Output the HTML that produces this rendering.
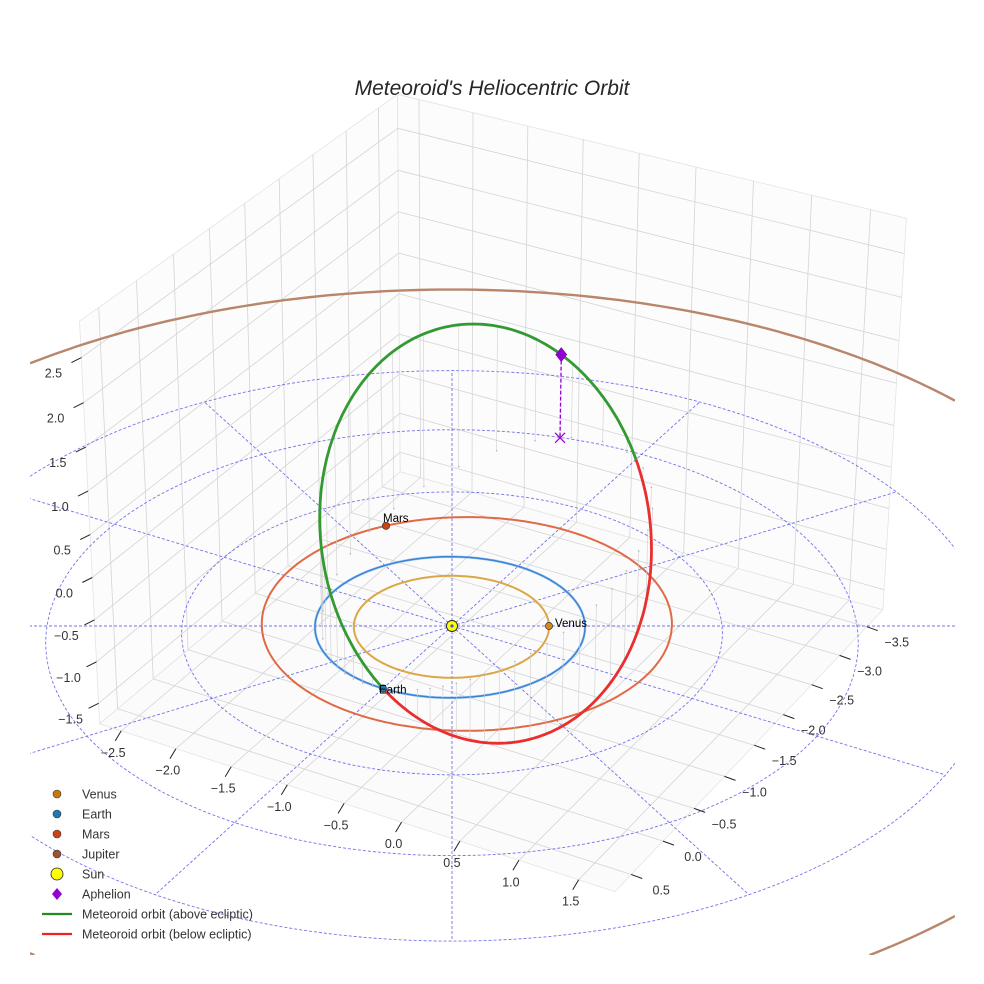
<!DOCTYPE html>
<html><head><meta charset="utf-8"><title>Meteoroid's Heliocentric Orbit</title>
<style>
html,body{margin:0;padding:0;background:#fff;overflow:hidden;}
svg{display:block;font-family:"Liberation Sans",sans-serif;overflow:hidden;}
</style></head>
<body>
<svg id="chart" width="984" height="984" viewBox="0 0 984 984">
<defs><clipPath id="plotclip"><rect x="30" y="0" width="925" height="955"/></clipPath></defs>
<text x="492" y="95" text-anchor="middle" font-size="21" font-style="italic" fill="#262626">Meteoroid's Heliocentric Orbit</text>
<g id="panes"></g>
<g id="plot" clip-path="url(#plotclip)"></g>
<g id="axes"></g>
<g id="legend"></g>
</svg>
<script>
// ---- data ----
const xTicks = [-2.5, -2.0, -1.5, -1.0, -0.5, 0.0, 0.5, 1.0, 1.5];
const yTicks = [-3.5, -3.0, -2.5, -2.0, -1.5, -1.0, -0.5, 0.0, 0.5];
const zTicks = [-1.5, -1.0, -0.5, 0.0, 0.5, 1.0, 1.5, 2.0, 2.5];
const xRange = [-2.7, 1.8];
const yRange = [-3.8, 0.75];
const zRange = [-1.75, 2.9];
const planetNames = ["Venus", "Earth", "Mars", "Jupiter"];
const planetA = [0.723, 1.0, 1.524, 5.2];
const planetE = [0.007, 0.017, 0.093, 0.048];
const planetPeri = [0, 0, 111, 60];
const planetAngle = [-30, 90, -139, null];
const refRings = [2, 3, 4];
const refSpokes = [0, 30, 60, 90, 120, 150, 180, 210, 240, 270, 300, 330];
const meteorA = 2.064;
const meteorE = 0.529;
const meteorInc = 55.4;
const meteorPeri = -22.6;

// ---- projection ----
const D = 32.6, K = 135, CX = 452, CY = 626, ZASP = 0.75;
const th = 30 * Math.PI / 180, el = 31.5 * Math.PI / 180;
const ct = Math.cos(th), st = Math.sin(th), ce = Math.cos(el), se = Math.sin(el);
function P(x, y, z) {
  const h = x * ct - y * st;
  const d = x * st + y * ct;
  const zs = z * ZASP;
  const up = zs * ce - d * se;
  const w = d * ce + zs * se;
  const s = D / (D - w);
  return [CX + K * s * h, CY - K * s * up];
}
const NS = "http://www.w3.org/2000/svg";
function mk(parent, tag, attrs) {
  const e = document.createElementNS(NS, tag);
  for (const k in attrs) e.setAttribute(k, attrs[k]);
  parent.appendChild(e);
  return e;
}
function pathD(pts) {
  return pts.map((p, i) => (i ? "L" : "M") + p[0].toFixed(1) + " " + p[1].toFixed(1)).join(" ");
}
// clip polyline to plot rectangle
const CL = [30, 0, 955, 955];
function clipSeg(a, b) {
  let t0 = 0, t1 = 1;
  const dx = b[0]-a[0], dy = b[1]-a[1];
  const pq = [[-dx, a[0]-CL[0]], [dx, CL[2]-a[0]], [-dy, a[1]-CL[1]], [dy, CL[3]-a[1]]];
  for (const [p, q] of pq) {
    if (p === 0) { if (q < 0) return null; continue; }
    const r = q / p;
    if (p < 0) { if (r > t1) return null; if (r > t0) t0 = r; }
    else { if (r < t0) return null; if (r < t1) t1 = r; }
  }
  return [[a[0]+t0*dx, a[1]+t0*dy], [a[0]+t1*dx, a[1]+t1*dy], t0 > 0, t1 < 1];
}
function clippedD(pts) {
  let out = "", open = false;
  for (let i = 0; i < pts.length - 1; i++) {
    const c = clipSeg(pts[i], pts[i+1]);
    if (!c) { open = false; continue; }
    if (!open || c[2]) out += "M" + c[0][0].toFixed(1) + " " + c[0][1].toFixed(1);
    out += "L" + c[1][0].toFixed(1) + " " + c[1][1].toFixed(1);
    open = !c[3];
  }
  return out || "M0 0";
}
function fmt(v) { return (v < 0 ? "\u2212" : "") + Math.abs(v).toFixed(1); }

const panes = document.getElementById("panes");
const plot = document.getElementById("plot");
const axes = document.getElementById("axes");
const legend = document.getElementById("legend");
const [x0, x1] = xRange, [y0, y1] = yRange, [z0, z1] = zRange;

// panes
function poly(pts) { return pts.map(p => p[0].toFixed(1) + "," + p[1].toFixed(1)).join(" "); }
let el1;
el1 = mk(panes, "polygon", {points: poly([P(x0,y0,z0),P(x1,y0,z0),P(x1,y1,z0),P(x0,y1,z0)]), fill: "#fbfbfb", stroke: "#e4e4e4", "stroke-width": 0.8});


el1 = mk(panes, "polygon", {points: poly([P(x0,y0,z0),P(x0,y1,z0),P(x0,y1,z1),P(x0,y0,z1)]), fill: "#fcfcfc", stroke: "#e4e4e4", "stroke-width": 0.8});


el1 = mk(panes, "polygon", {points: poly([P(x0,y0,z0),P(x1,y0,z0),P(x1,y0,z1),P(x0,y0,z1)]), fill: "#fcfcfc", stroke: "#e4e4e4", "stroke-width": 0.8});



function gline(a, b) {
  const p = mk(panes, "path", {d: pathD([a, b]), stroke: "#d4d4d4", "stroke-width": 0.8, fill: "none"});
  
  
}
xTicks.forEach(x => { gline(P(x,y0,z0), P(x,y1,z0)); gline(P(x,y0,z0), P(x,y0,z1)); });
yTicks.forEach(y => { gline(P(x0,y,z0), P(x1,y,z0)); gline(P(x0,y,z0), P(x0,y,z1)); });
zTicks.forEach(z => { gline(P(x0,y0,z), P(x1,y0,z)); gline(P(x0,y0,z), P(x0,y1,z)); });

// ticks and labels
function tick(pt, dx, dy, lx, ly, txt, name) {
  const t = mk(axes, "path", {d: pathD([pt, [pt[0]+dx, pt[1]+dy]]), stroke: "#222", "stroke-width": 1});
  
  
  const l = mk(axes, "text", {x: (pt[0]+lx).toFixed(1), y: (pt[1]+ly).toFixed(1), "font-size": 12.5, fill: "#333", "text-anchor": "middle"});
  l.textContent = txt;
  
  
}
xTicks.forEach(x => tick(P(x, y1, z0), -6, 10, -8, 26, fmt(x), "x-axis"));
yTicks.forEach(y => tick(P(x1, y, z0), 11, 4, 30, 20, fmt(y), "y-axis"));
zTicks.forEach(z => tick(P(x0, y1, z), -10, 5, -28, 20, fmt(z), "z-axis"));

// reference rings and spokes
const N = 240;
refRings.forEach(r => {
  const pts = [];
  for (let i = 0; i <= N; i++) { const a = 2*Math.PI*i/N; pts.push(P(r*Math.cos(a), r*Math.sin(a), 0)); }
  const e = mk(plot, "path", {d: clippedD(pts), stroke: "#5a5ae6", "stroke-width": 0.9, fill: "none", "stroke-dasharray": "3,2", opacity: 0.85});
  
  
});
refSpokes.forEach(a => {
  const r = Math.PI*a/180, R = refRings[refRings.length-1];
  const e = mk(plot, "path", {d: clippedD([P(0,0,0), P(R*Math.cos(r), R*Math.sin(r), 0)]), stroke: "#5a5ae6", "stroke-width": 0.9, fill: "none", "stroke-dasharray": "3,2", opacity: 0.85});
  
  
});

// planetary orbits
function orbitR(a, e, peri, angDeg) {
  return a*(1-e*e)/(1+e*Math.cos((angDeg-peri)*Math.PI/180));
}
const orbitColors = ["#dba746", "#3a84d6", "#e06a45", "#b8866a"];
const orbitOrder = [3, 2, 1, 0];
orbitOrder.forEach(k => {
  const pts = [];
  for (let i = 0; i <= 360; i++) {
    const r = orbitR(planetA[k], planetE[k], planetPeri[k], i);
    const a = i*Math.PI/180;
    pts.push(P(r*Math.cos(a), r*Math.sin(a), 0));
  }
  if (k === 1) {
    const g = mk(plot, "path", {d: clippedD(pts), stroke: "#a9cdf0", "stroke-width": 2.6, fill: "none"});
    
    
  }
  const o = mk(plot, "path", {d: clippedD(pts), stroke: orbitColors[k], "stroke-width": k===3?2.4:(k===1?1.5:2), fill: "none"});
  
  
});

// meteoroid orbit
const inc = meteorInc*Math.PI/180;
const mvec = [-Math.cos(inc), 0, Math.sin(inc)];
function meteorPt(phiDeg) {
  const r = orbitR(meteorA, meteorE, meteorPeri, phiDeg);
  const phi = phiDeg*Math.PI/180;
  const u = r*Math.cos(phi), v = r*Math.sin(phi);
  return [v*mvec[0], u, v*mvec[2]];
}
for (let ph = 0; ph < 360; ph += 8) {
  const q = meteorPt(ph);
  const top = P(q[0], q[1], q[2]), base = P(q[0], q[1], 0);
  const dl = mk(plot, "path", {d: pathD([top, base]), stroke: "#cfcfcf", "stroke-width": 0.6, fill: "none"});
  
  
  const db = mk(plot, "circle", {cx: base[0].toFixed(1), cy: base[1].toFixed(1), r: 0.8, fill: "#b5b5b5"});
  
  
}
const above = [], below = [];
for (let ph = 0; ph <= 180; ph += 1) { const q = meteorPt(ph); above.push(P(q[0], q[1], q[2])); }
for (let ph = 180; ph <= 360; ph += 1) { const q = meteorPt(ph); below.push(P(q[0], q[1], q[2])); }
let mo = mk(plot, "path", {d: pathD(above), stroke: "#339a33", "stroke-width": 2.8, fill: "none"});


mo = mk(plot, "path", {d: pathD(below), stroke: "#ea2e2e", "stroke-width": 2.8, fill: "none"});



// aphelion
const apPhi = meteorPeri + 180;
const apq = meteorPt(apPhi);
const apS = P(apq[0], apq[1], apq[2]), apB = P(apq[0], apq[1], 0);
let ap = mk(plot, "path", {d: pathD([apS, apB]), stroke: "#9400d3", "stroke-width": 1.3, "stroke-dasharray": "4,2", fill: "none"});


ap = mk(plot, "path", {d: `M${apB[0]-5} ${apB[1]-5} L${apB[0]+5} ${apB[1]+5} M${apB[0]-5} ${apB[1]+5} L${apB[0]+5} ${apB[1]-5}`, stroke: "#9400d3", "stroke-width": 1.2, fill: "none"});


ap = mk(plot, "path", {d: `M${apS[0]} ${apS[1]-7} L${apS[0]+5.5} ${apS[1]} L${apS[0]} ${apS[1]+7} L${apS[0]-5.5} ${apS[1]} Z`, fill: "#9400d3", stroke: "#7a00b0", "stroke-width": 0.6});



// sun
const sp = P(0, 0, 0);
let sn = mk(plot, "circle", {cx: sp[0], cy: sp[1], r: 5.5, fill: "#ffff00", stroke: "#222", "stroke-width": 0.9});


sn = mk(plot, "circle", {cx: sp[0], cy: sp[1], r: 1.6, fill: "#3a5ad6"});



// planets
const planetFill = ["#d08a1e", "#1f77b4", "#cc4411", "#a0522d"];
const labelOff = [[6, 1], [-4, 5], [-3, -4], [0, 0]];
for (let k = 0; k < 3; k++) {
  const ang = planetAngle[k];
  const r = orbitR(planetA[k], planetE[k], planetPeri[k], ang);
  const a = ang*Math.PI/180;
  const pp = P(r*Math.cos(a), r*Math.sin(a), 0);
  const c = mk(plot, "circle", {cx: pp[0].toFixed(1), cy: pp[1].toFixed(1), r: 3.6, fill: planetFill[k], stroke: "#333", "stroke-width": 0.7});
  
  
  const t = mk(plot, "text", {x: (pp[0]+labelOff[k][0]).toFixed(1), y: (pp[1]+labelOff[k][1]).toFixed(1), "font-size": 11.5, fill: "#000"});
  t.textContent = planetNames[k];
  
  
}

// legend
const legendLabels = ["Venus", "Earth", "Mars", "Jupiter", "Sun", "Aphelion", "Meteoroid orbit (above ecliptic)", "Meteoroid orbit (below ecliptic)"];
const legendKinds = ["dot", "dot", "dot", "dot", "sun", "diamond", "line", "line"];
const legendColors = ["#c8780f", "#1f77b4", "#cc4411", "#a0522d", "#ffff00", "#9400d3", "#228b22", "#ee2222"];
legendLabels.forEach((lab, i) => {
  const y = 794 + i*20;
  const g = mk(legend, "g", {});
  
  
  const kind = legendKinds[i];
  let m;
  if (kind === "dot") m = mk(g, "circle", {cx: 57, cy: y, r: 4, fill: legendColors[i], stroke: "#333", "stroke-width": 0.6});
  else if (kind === "sun") m = mk(g, "circle", {cx: 57, cy: y, r: 6, fill: legendColors[i], stroke: "#222", "stroke-width": 0.8});
  else if (kind === "diamond") m = mk(g, "path", {d: `M57 ${y-6} L62 ${y} L57 ${y+6} L52 ${y} Z`, fill: legendColors[i]});
  else m = mk(g, "path", {d: `M42 ${y} L72 ${y}`, stroke: legendColors[i], "stroke-width": 2.2});
  
  
  const t = mk(g, "text", {x: 82, y: y + 4.5, "font-size": 12.5, fill: "#333"});
  t.textContent = lab;
  
  
});
</script>
</body></html>
